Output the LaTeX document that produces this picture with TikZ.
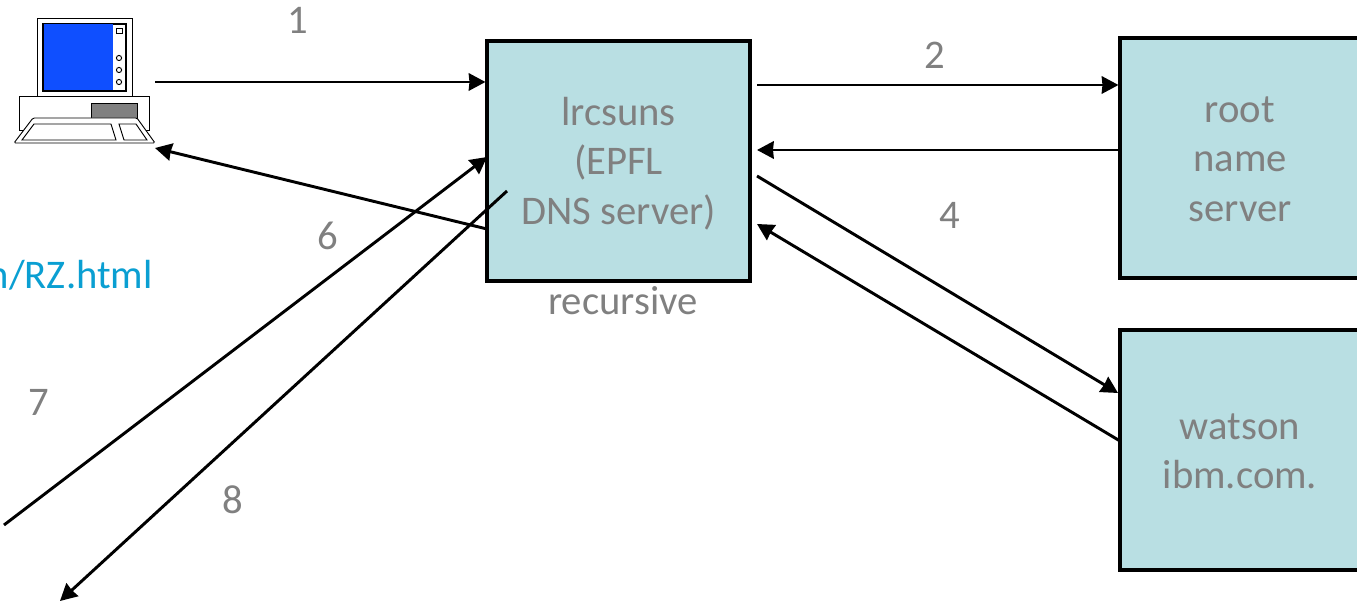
\documentclass[tikz,border=0pt]{standalone}
\usepackage{fontspec}
\setmainfont{Carlito}
\usetikzlibrary{arrows.meta}
\definecolor{boxfill}{HTML}{B9DFE3}
\definecolor{labelgray}{HTML}{808080}
\definecolor{linkblue}{HTML}{0A9FD2}
\definecolor{screenblue}{HTML}{0F4FFF}
\newcommand{\firstrow}{\rule{0pt}{26.8pt}}
\newcommand{\lastrow}{\rule[-6pt]{0pt}{6pt}}
\tikzstyle{server} = [rectangle, minimum width=180pt, minimum height=180pt, align=center, draw=black, line width=2.3pt, fill=boxfill, text=labelgray, font=\fontsize{30.5}{36.9}\selectfont]
\tikzstyle{tag} = [text=labelgray, font=\fontsize{30.5}{36}\selectfont, inner sep=0pt]
\tikzstyle{arrow} = [line width=2.2pt,-{Stealth[length=12.5pt,width=13pt,inset=0.5pt]}]
\tikzstyle{pcpart} = [draw=black, line width=0.7pt, fill=white]
\begin{document}
\begin{tikzpicture}[x=0.75pt,y=-0.75pt]
        \useasboundingbox (0,0) rectangle (1357,605);
        % computer
        \draw [pcpart] (37,18) rectangle (132,96);
        \draw [pcpart, line width=1.1pt] (43,24) rectangle (126,91);
        \fill [screenblue] (43.5,24.5) rectangle (113,90.5);
        \draw [pcpart] (116,28) rectangle (122,33);
        \foreach \cy in {58,70,82}
            \draw [pcpart] (119,\cy) circle (2.6);
        \draw [pcpart] (19,96) rectangle (149,130);
        \draw [pcpart, fill=gray] (91,103) rectangle (137,119);
        \draw [pcpart, rounded corners=1pt] (33,118) -- (137,118) -- (155,143) -- (14,143) -- cycle;
        \draw [pcpart] (34,124) -- (111,124) -- (116,140) -- (22,140) -- cycle;
        \draw [pcpart] (119,124) -- (136,124) -- (147,140) -- (124,140) -- cycle;
        \coordinate (pcout) at (155,82);
        \coordinate (pcin) at (155,148);

        \node (lrcsuns) [server, minimum width=197.25pt] at (618.5,161) {\firstrow lrcsuns\\(EPFL\\DNS server)\lastrow};
        \node (root) [server] at (1240,158) {\firstrow root\\name\\server\lastrow};
        \node (watson) [server] at (1240,450) {\firstrow watson\\ibm.com.\lastrow};

        \node (recursive) [tag] at (623,301) {recursive};
        \node (link) [tag, text=linkblue, anchor=east] at (153,275) {n/RZ.html};
        \node (one) [tag] at (298,20) {1};
        \node (two) [tag] at (935,55) {2};
        \node (four) [tag] at (950,215) {4};
        \node (six) [tag] at (328,236) {6};
        \node (seven) [tag] at (39,402) {7};
        \node (eight) [tag] at (233,500) {8};

        \coordinate (rootout) at (757,85);
        \coordinate (rootin) at (757,150);
        \coordinate (watsonout) at (757,176);
        \coordinate (watsonhit) at (1118,393);
        \coordinate (watsonfrom) at (1120,441);
        \coordinate (watsonin) at (757,224);
        \coordinate (replyfrom) at (487,229);
        \coordinate (farin) at (4,525);
        \coordinate (farhit) at (487,157);
        \coordinate (farfrom) at (507,191);
        \coordinate (farout) at (60,601);

        % Arrows
        \draw [arrow] (pcout) -- (lrcsuns.west |- pcout);
        \draw [arrow] (rootout) -- (root.west |- rootout);
        \draw [arrow] (root.west |- rootin) -- (rootin);
        \draw [arrow] (watsonout) -- (watsonhit);
        \draw [arrow] (watsonfrom) -- (watsonin);
        \draw [arrow] (replyfrom) -- (pcin);
        \draw [arrow] (farin) -- (farhit);
        \draw [arrow] (farfrom) -- (farout);
\end{tikzpicture}
\end{document}
